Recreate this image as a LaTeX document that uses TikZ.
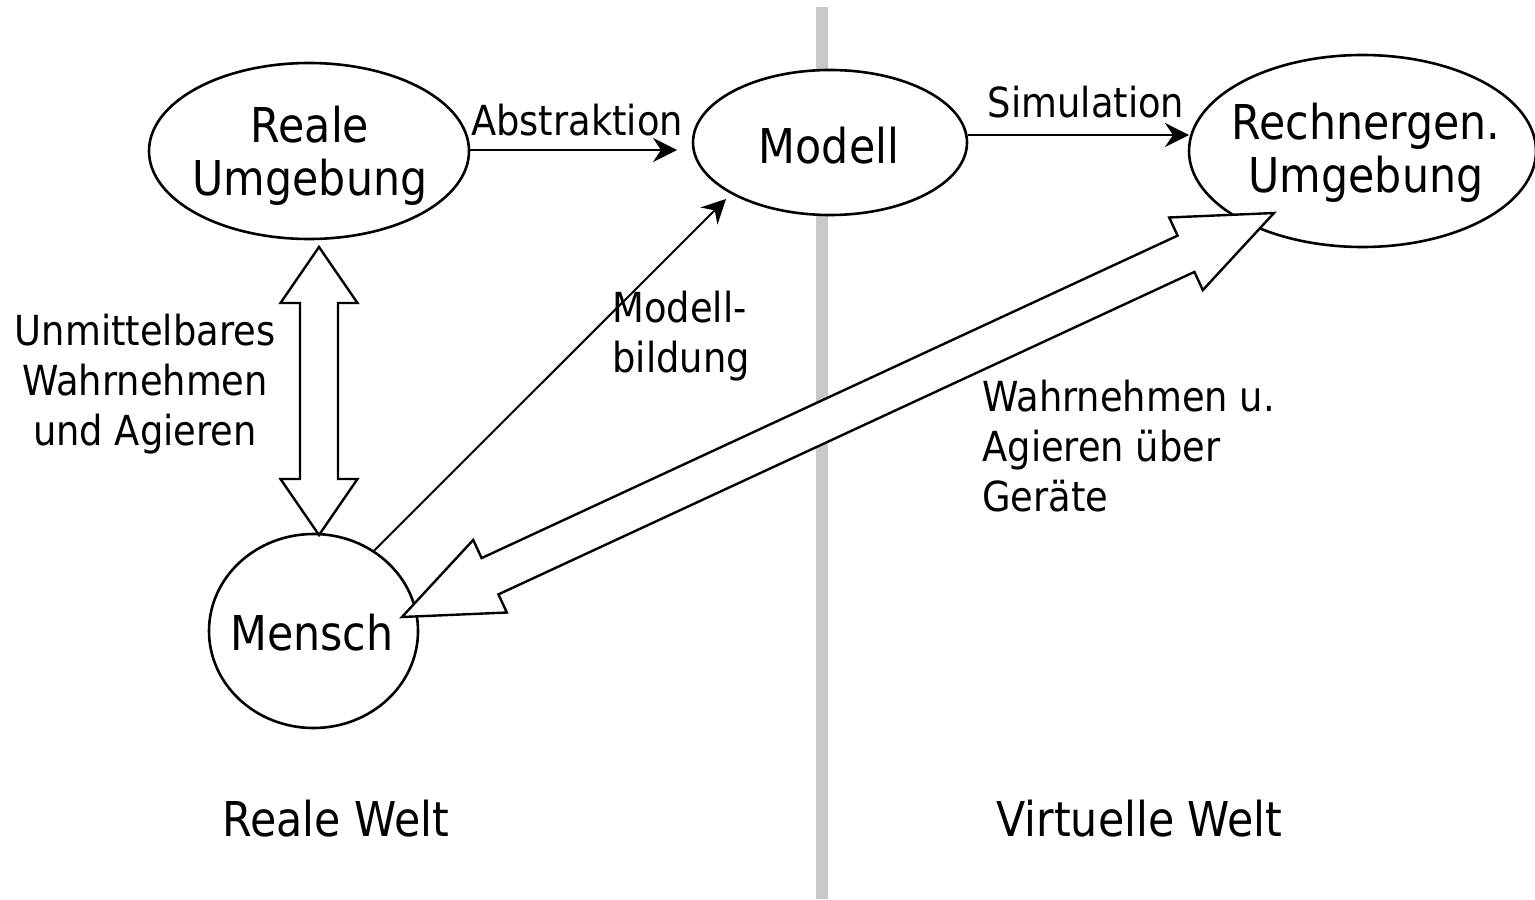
\documentclass[tikz,border=0pt]{standalone}
\usepackage{fontspec}
\setmainfont{DejaVu Sans}[FakeStretch=0.89]
\usetikzlibrary{calc,arrows.meta,shapes.geometric}
\definecolor{sepgray}{HTML}{C8C8C8}
\newcommand\txtl[2]{\begin{tabular}[t]{@{}#1@{}}#2\end{tabular}}
\newcommand\fatdbl[5]{%
  \path ($(#1)!#3!(#2)$) coordinate (fh1) ($(#2)!#3!(#1)$) coordinate (fh2);
  \filldraw[fat] (#1) -- ($(fh1)!#4!90:(#2)$) -- ($(fh1)!#5!90:(#2)$)
    -- ($(fh2)!#5!-90:(#1)$) -- ($(fh2)!#4!-90:(#1)$) -- (#2)
    -- ($(fh2)!#4!90:(#1)$) -- ($(fh2)!#5!90:(#1)$)
    -- ($(fh1)!#5!-90:(#2)$) -- ($(fh1)!#4!-90:(#2)$) -- cycle;}
\tikzset{
  ell/.style={ellipse, draw, line width=1.3pt, fill=white, inner sep=0pt},
  big/.style={font=\fontsize{24}{26.5}\selectfont, inner sep=0pt, anchor=base},
  small/.style={font=\fontsize{20.7}{25}\selectfont, inner sep=0pt, anchor=base},
  arr/.style={line width=1pt, -{Stealth[length=12pt,width=12pt,inset=4pt]}},
  fat/.style={draw, fill=white, line width=1.2pt, line join=miter},
  sep/.style={line width=6pt, sepgray}
}
\begin{document}
\begin{tikzpicture}[x=0.5pt, y=-0.5pt]
\useasboundingbox (0,0) rectangle (1535,899);
% separator
\coordinate (septop) at (822,7);
\coordinate (sepbot) at (822,899);
\draw[sep] (septop) -- (sepbot);
% ellipses
\node[ell, minimum width=160pt, minimum height=88pt] (reale) at (309,151) {};
\node[ell, minimum width=137pt, minimum height=72.5pt] (modell) at (830,142.5) {};
\node[ell, minimum width=173.5pt, minimum height=96pt] (rechner) at (1362.5,151) {};
\node[ell, minimum width=104.5pt, minimum height=97pt] (mensch) at (313.5,631) {};
% thin arrows
\coordinate (atip) at (677,150);
\coordinate (stip) at (1189,135);
\coordinate (mtip) at (726,199);
\draw[arr] (reale.east |- atip) -- (atip);
\draw[arr] ($(modell.east)+(-0.5,-7.5)$) -- (stip);
\draw[arr] (mensch.53) -- (mtip);
% fat double arrows
\coordinate (vtop) at (319,247);
\coordinate (vbot) at (319,535);
\coordinate (dA) at (402,617);
\coordinate (dB) at (1274,213);
\fatdbl{vtop}{vbot}{28pt}{19.25pt}{9.5pt}
\fatdbl{dA}{dB}{48.5pt}{20pt}{10pt}
% node texts
\node[big] (treale) at (310,142) {\txtl{c}{Reale\\Umgebung}};
\node[big] (tmodell) at (829,163) {Modell};
\node[big] (trechner) at (1366,140) {\txtl{c}{Rechnergen.\\Umgebung}};
\node[big] (tmensch) at (312,650) {Mensch};
% labels
\node[small] (labs) at (577,135) {Abstraktion};
\node[small] (lsim) at (1086,118) {Simulation};
\node[small] (lunm) at (145,345) {\txtl{c}{Unmittelbares\\Wahrnehmen\\und Agieren}};
\node[small, anchor=base west] (lmb) at (612,322) {\txtl{l}{Modell-\\bildung}};
\node[small, anchor=base west] (lwa) at (982,411) {\txtl{l}{Wahrnehmen u.\\Agieren über\\Geräte}};
\node[big] (lreal) at (336,836) {Reale Welt};
\node[big] (lvirt) at (1139.5,836) {Virtuelle Welt};
\end{tikzpicture}
\end{document}
